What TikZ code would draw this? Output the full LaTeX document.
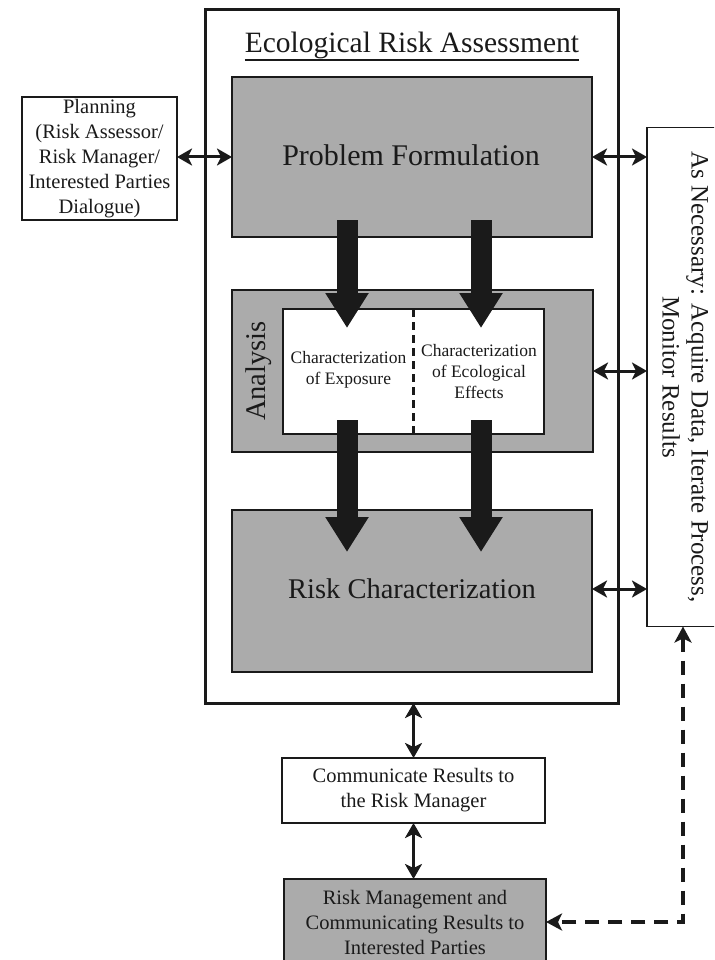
\documentclass[tikz,border=0pt]{standalone}
\usepackage{fontspec}
\setmainfont{Liberation Serif}
\usepackage{graphicx}
\usetikzlibrary{arrows.meta}
\definecolor{boxgray}{RGB}{171,171,171}
\definecolor{ink}{RGB}{26,26,26}
\begin{document}
\begin{tikzpicture}[x=1pt,y=-1pt,
  every node/.style={inner sep=0pt, outer sep=0pt, text=ink},
  whitebox/.style={draw=ink, line width=1.6pt, fill=white},
  graybox/.style={draw=ink, line width=1.4pt, fill=boxgray},
  dbl/.style={line width=3pt, draw=ink, {Stealth[length=15pt,width=17pt,inset=4pt]}-{Stealth[length=15pt,width=17pt,inset=4pt]}},
  bigarrow/.style={line width=21pt, draw=ink, -{Triangle[length=35pt,width=41pt]}},
  bigfont/.style={font=\fontsize{30}{36}\selectfont},
  rcfont/.style={font=\fontsize{28.5}{34}\selectfont},
  midfont/.style={font=\fontsize{20.5}{25}\selectfont, align=center},
  smallfont/.style={font=\fontsize{17.5}{21}\selectfont, align=center},
]
\useasboundingbox (0,0) rectangle (714,960);
\clip (0,0) rectangle (714,960);

% outer frame
\node[draw=ink, line width=3pt, minimum width=413pt, minimum height=693pt] (outer) at (411.5,356.5) {};
\node[font=\fontsize{29.5}{35}\selectfont, anchor=base] (title) at (412,53) {Ecological Risk Assessment};
\draw[draw=ink, line width=2.5pt] ([yshift=-7pt]title.base west) -- ([yshift=-7pt]title.base east);

% main boxes
\node[graybox, minimum width=360pt, minimum height=160pt] (pf) at (412,157) {};
\node[bigfont, anchor=base] (pftext) at (411,165) {Problem Formulation};
\node[graybox, minimum width=361pt, minimum height=162pt] (analysis) at (412.5,371) {};
\node[whitebox, line width=1.4pt, minimum width=261pt, minimum height=125pt] (inner) at (413.5,371.5) {};
\draw[draw=ink, line width=2.5pt, dash pattern=on 8pt off 5pt] (inner.north) -- (inner.south);
\node[smallfont] (expo) at (348.5,370) {Characterization\\of Exposure};
\node[smallfont] (effects) at (479,372) {Characterization\\of Ecological\\Effects};
\node[font=\fontsize{28.5}{34}\selectfont, rotate=90] (analysislabel) at (259,371) {Analysis};
\node[graybox, minimum width=360pt, minimum height=162pt] (rc) at (412,591) {};
\node[rcfont, anchor=base] (rctext) at (412,598) {Risk Characterization};

% side boxes
\node[whitebox, midfont, minimum width=155pt, minimum height=123pt] (planning) at (99.5,158.5)
  {Planning\\(Risk Assessor/\\Risk Manager/\\Interested Parties\\Dialogue)};
\node[whitebox, minimum width=72pt, minimum height=499pt] (asn) at (683,377)
  {\rotatebox[origin=c]{-90}{\fontsize{25}{30}\selectfont\begin{tabular}{@{}c@{}}As Necessary: Acquire Data, Iterate Process,\\[-1pt]Monitor Results\end{tabular}}};

% bottom boxes
\node[whitebox, midfont, minimum width=263pt, minimum height=65pt] (comm) at (413.5,790.5)
  {Communicate Results to\\the Risk Manager};
\node[graybox, midfont, minimum width=262pt, minimum height=86pt] (rm) at (415,922)
  {Risk Management and\\Communicating Results to\\Interested Parties};

% big block arrows
\draw[bigarrow] ([xshift=-65pt,yshift=17pt]pf.south) -- ([xshift=-66.5pt,yshift=-19pt]inner.north);
\draw[bigarrow] ([xshift=69pt,yshift=17pt]pf.south) -- ([xshift=67.5pt,yshift=-19pt]inner.north);
\draw[bigarrow] ([xshift=-66.5pt,yshift=14pt]inner.south) -- ([xshift=-65pt,yshift=-42pt]rc.north);
\draw[bigarrow] ([xshift=67.5pt,yshift=14pt]inner.south) -- ([xshift=69pt,yshift=-42pt]rc.north);

% double arrows
\draw[dbl] (planning.east |- pf.west) -- (pf.west);
\draw[dbl] (pf.east) -- (pf.east -| asn.west);
\draw[dbl] (analysis.east) -- (analysis.east -| asn.west);
\draw[dbl] ([yshift=2pt]rc.east) -- ([yshift=2pt]rc.east -| asn.west);
\draw[dbl] (comm.north |- outer.south) -- (comm.north);
\draw[dbl] (comm.south) -- (comm.south |- rm.north);

% dashed feedback
\draw[draw=ink, line width=4pt, dash pattern=on 14pt off 9pt,
  {Stealth[length=16pt,width=17pt,inset=4pt]}-{Stealth[length=16pt,width=17pt,inset=4pt]}]
  (asn.south) |- (rm.east);
\end{tikzpicture}
\end{document}
